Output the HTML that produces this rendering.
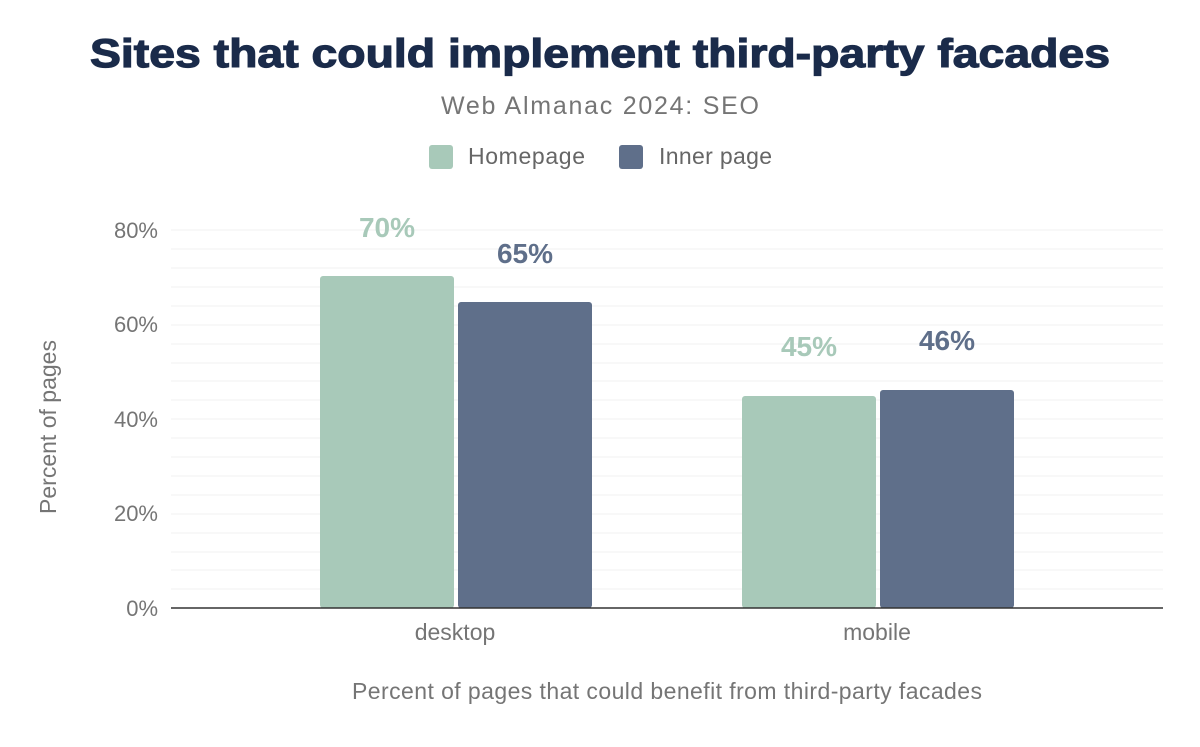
<!DOCTYPE html>
<html><head><meta charset="utf-8"><style>
body{margin:0;background:#fff;width:1200px;height:742px;overflow:hidden;font-family:"Liberation Sans",sans-serif}
</style></head><body>
<svg width="1200" height="742" xmlns="http://www.w3.org/2000/svg" font-family="Liberation Sans, sans-serif">
<text x="90" y="67" font-size="40" font-weight="900" fill="#1a2b4a" stroke="#1a2b4a" stroke-width="1.2" textLength="1020" lengthAdjust="spacingAndGlyphs">Sites that could implement third-party facades</text>
<text x="600" y="114" text-anchor="middle" font-size="25" fill="#757575" textLength="318">Web Almanac 2024: SEO</text>
<rect x="429" y="145" width="24" height="24" rx="3" fill="#a8c9b9"/>
<text x="468" y="164" font-size="23" fill="#666" textLength="117">Homepage</text>
<rect x="619" y="145" width="24" height="24" rx="3" fill="#5f6f8a"/>
<text x="659" y="164" font-size="23" fill="#666" textLength="113">Inner page</text>
<g stroke="#f3f3f3" stroke-width="1.2">
<line x1="171" x2="1163" y1="230" y2="230"/><line x1="171" x2="1163" y1="249" y2="249"/><line x1="171" x2="1163" y1="268" y2="268"/><line x1="171" x2="1163" y1="287" y2="287"/><line x1="171" x2="1163" y1="306" y2="306"/><line x1="171" x2="1163" y1="325" y2="325"/><line x1="171" x2="1163" y1="344" y2="344"/><line x1="171" x2="1163" y1="363" y2="363"/><line x1="171" x2="1163" y1="381" y2="381"/><line x1="171" x2="1163" y1="400" y2="400"/><line x1="171" x2="1163" y1="419" y2="419"/><line x1="171" x2="1163" y1="438" y2="438"/><line x1="171" x2="1163" y1="457" y2="457"/><line x1="171" x2="1163" y1="476" y2="476"/><line x1="171" x2="1163" y1="495" y2="495"/><line x1="171" x2="1163" y1="514" y2="514"/><line x1="171" x2="1163" y1="533" y2="533"/><line x1="171" x2="1163" y1="552" y2="552"/><line x1="171" x2="1163" y1="570" y2="570"/><line x1="171" x2="1163" y1="589" y2="589"/>
</g>
<g font-size="22" fill="#757575" text-anchor="end">
<text x="158" y="238">80%</text><text x="158" y="332">60%</text><text x="158" y="427">40%</text><text x="158" y="521">20%</text><text x="158" y="616">0%</text>
</g>
<rect x="320" y="276" width="134" height="332" rx="3" fill="#a8c9b9"/>
<rect x="458" y="302" width="134" height="306" rx="3" fill="#5f6f8a"/>
<rect x="742" y="396" width="134" height="212" rx="3" fill="#a8c9b9"/>
<rect x="880" y="390" width="134" height="218" rx="3" fill="#5f6f8a"/>
<line x1="171" x2="1163" y1="608" y2="608" stroke="#333" stroke-width="1.5"/>
<g font-size="28" font-weight="bold" text-anchor="middle">
<text x="387" y="237" fill="#a8c9b9">70%</text><text x="525" y="263" fill="#5f6f8a">65%</text>
<text x="809" y="356" fill="#a8c9b9">45%</text><text x="947" y="350" fill="#5f6f8a">46%</text>
</g>
<g font-size="23" fill="#757575" text-anchor="middle">
<text x="455" y="640">desktop</text><text x="877" y="640">mobile</text>
<text x="667" y="699" textLength="630">Percent of pages that could benefit from third-party facades</text>
<text transform="translate(56,427) rotate(-90)">Percent of pages</text>
</g>
</svg>
</body></html>
